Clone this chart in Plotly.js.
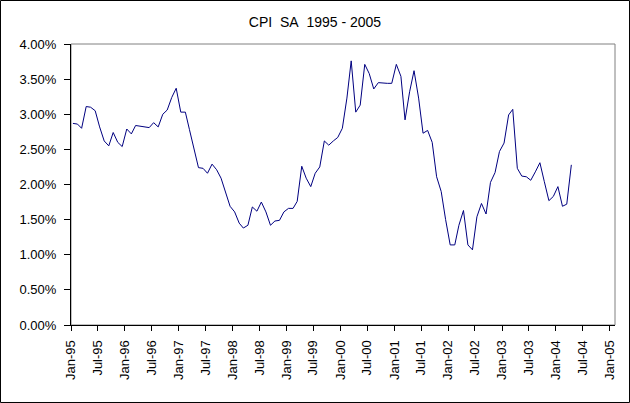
<!DOCTYPE html>
<html>
<head>
<meta charset="utf-8">
<script src="https://cdn.plot.ly/plotly-3.0.1.min.js"></script>
<style>
  html, body { margin: 0; padding: 0; background: #fff; }
  #chart { width: 630px; height: 403px; }
</style>
</head>
<body>
<div id="chart"></div>
<script>
// monthly CPI (SA), year-on-year %, Jan-95 .. Apr-04
var startYear = 1995;
var cpi = [
  2.87, 2.86, 2.80, 3.11, 3.10, 3.05, 2.82, 2.62, 2.55, 2.74, 2.60, 2.54,
  2.79, 2.72, 2.84, 2.83, 2.82, 2.81, 2.88, 2.82, 3.00, 3.06, 3.24, 3.37,
  3.03, 3.03, 2.78, 2.49, 2.24, 2.23, 2.16, 2.29, 2.21, 2.09, 1.87, 1.69,
  1.61, 1.45, 1.38, 1.42, 1.68, 1.62, 1.75, 1.61, 1.42, 1.48, 1.49, 1.61,
  1.66, 1.66, 1.76, 2.26, 2.09, 1.97, 2.16, 2.25, 2.62, 2.56, 2.62, 2.67,
  2.80, 3.23, 3.76, 3.03, 3.13, 3.71, 3.58, 3.36, 3.45, 3.44, 3.44, 3.44,
  3.71, 3.54, 2.92, 3.32, 3.62, 3.23, 2.73, 2.77, 2.60, 2.11, 1.90, 1.50,
  1.14, 1.14, 1.42, 1.63, 1.14, 1.07, 1.54, 1.73, 1.58, 2.03, 2.17, 2.47,
  2.59, 2.99, 3.07, 2.23, 2.12, 2.11, 2.06, 2.18, 2.31, 2.04, 1.77, 1.83,
  1.97, 1.69, 1.72, 2.28
];
var chartTitle = 'CPI\u00a0\u00a0SA\u00a0\u00a01995 - 2005';

function pad(n){ return n < 10 ? '0' + n : '' + n; }

var months = [];
for (var i = 0; i < cpi.length; i++) {
  var y = startYear + Math.floor(i / 12);
  var m = i % 12 + 1;
  months.push(y + '-' + pad(m) + '-14');
}

var fontFam = 'Arial, "Liberation Sans", sans-serif';

var data = [{
  x: months,
  y: cpi,
  type: 'scatter',
  mode: 'lines',
  line: {color: '#000080', width: 1},
  hoverinfo: 'none'
}];

var layout = {
  width: 630,
  height: 403,
  margin: {l: 71, r: 15, t: 44, b: 78},
  paper_bgcolor: '#ffffff',
  plot_bgcolor: '#ffffff',
  showlegend: false,
  title: {
    text: chartTitle,
    font: {family: fontFam, size: 14, color: '#000'},
    x: 0.5, xref: 'container', xanchor: 'center',
    y: 1, yref: 'container', yanchor: 'top', pad: {t: 17}
  },
  xaxis: {
    type: 'date',
    range: ['1995-01-01', '2005-02-04'],
    tick0: '1995-01-01',
    dtick: 'M6',
    tickformat: '%b-%y',
    tickangle: -90,
    ticks: 'outside',
    ticklen: 5,
    tickcolor: '#000',
    ticklabelstandoff: 4,
    showgrid: false,
    zeroline: false,
    showline: true,
    linecolor: '#000',
    linewidth: 1,
    tickfont: {family: fontFam, size: 13, color: '#000'}
  },
  yaxis: {
    range: [0, 4],
    tick0: 0,
    dtick: 0.5,
    tickformat: '.2f',
    ticksuffix: '%',
    ticks: 'outside',
    ticklen: 6,
    tickcolor: '#000',
    ticklabelstandoff: 5,
    showgrid: false,
    zeroline: false,
    showline: true,
    linecolor: '#000',
    linewidth: 1,
    tickfont: {family: fontFam, size: 13, color: '#000'}
  },
  shapes: [
    {type: 'rect', xref: 'paper', yref: 'paper', x0: 0, x1: 1, y0: 0, y1: 1,
     line: {color: '#808080', width: 1}, layer: 'below'},
    {type: 'rect', xref: 'paper', yref: 'paper',
     x0: -0.1296, x1: 1.0267, y0: -0.2758, y1: 1.1548,
     line: {color: '#000', width: 1}, layer: 'below'}
  ]
};

Plotly.newPlot('chart', data, layout, {displayModeBar: false, staticPlot: true});
</script>
</body>
</html>
